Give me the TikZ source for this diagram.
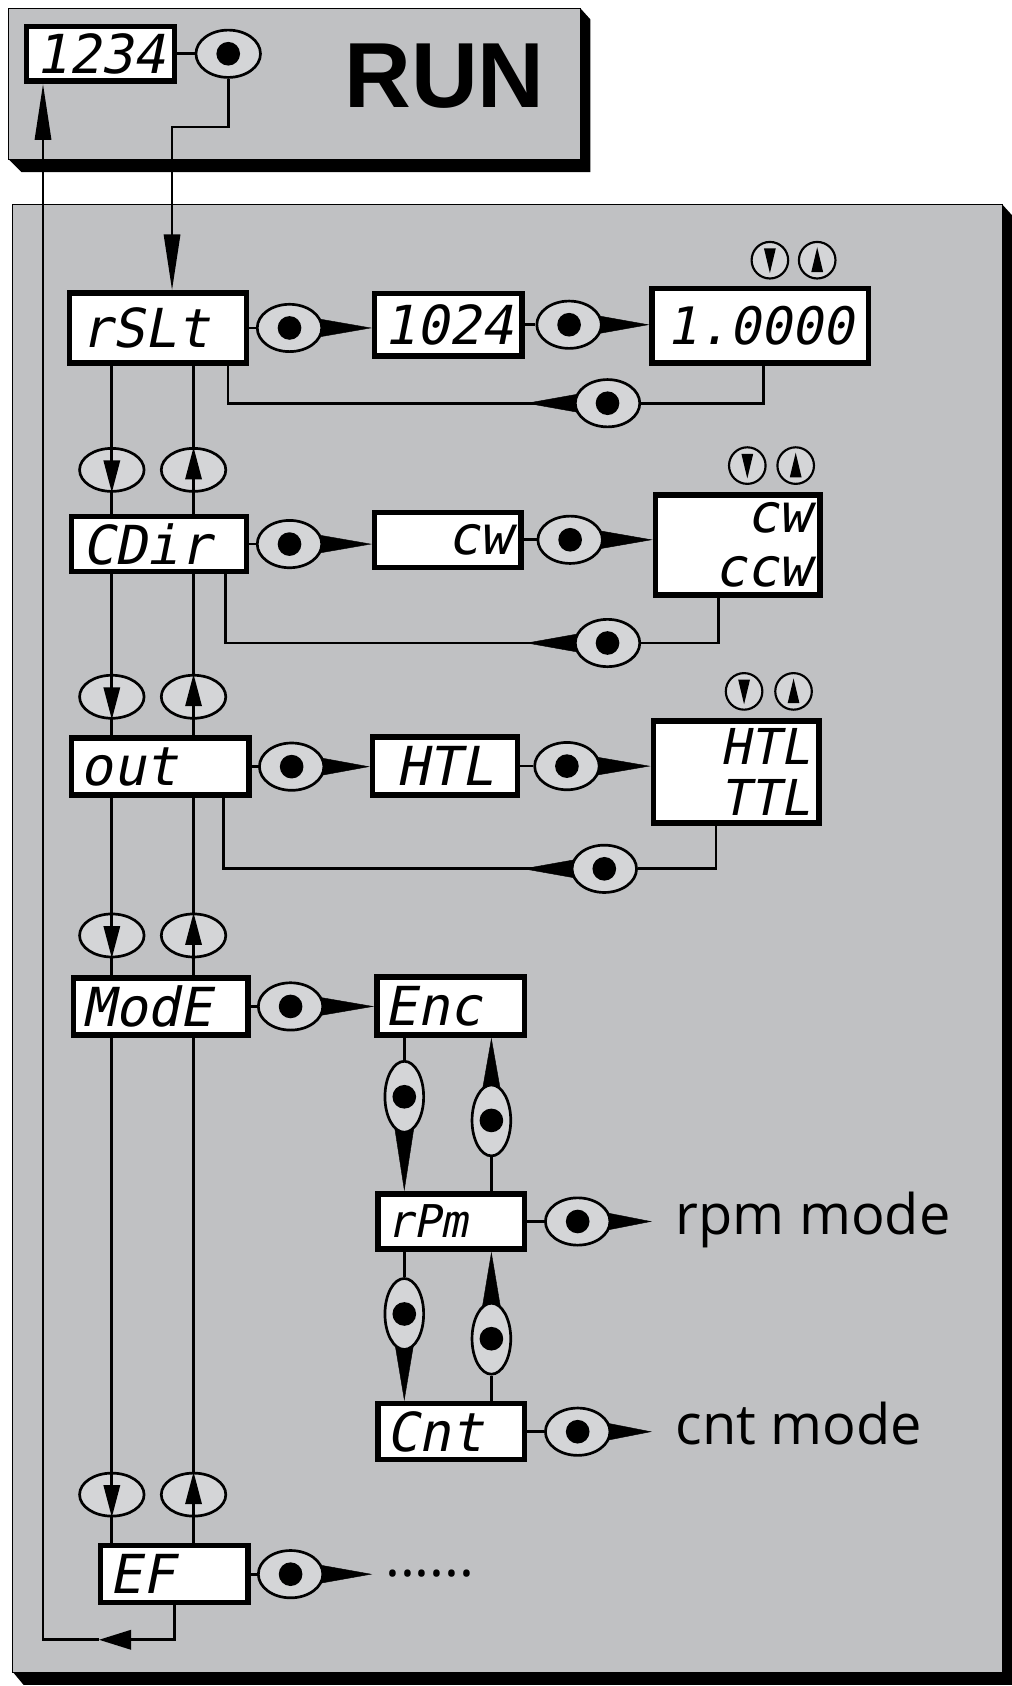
\documentclass[tikz,border=0pt]{standalone}
\usepackage{fontspec}
\usetikzlibrary{positioning,shapes.geometric,arrows.meta}
\setmainfont{Open Sans}
\newfontfamily\segfont{DejaVu Sans Mono}[FakeSlant=0.2]
\newfontfamily\runfont{Liberation Sans}
\definecolor{panelgray}{RGB}{192,193,195}
\definecolor{keygray}{RGB}{212,213,215}
\pgfdeclarelayer{base}
\pgfdeclarelayer{back}
\pgfsetlayers{base,back,main}

\begin{document}
\begin{tikzpicture}[
x=1pt, y=-1pt,
wire/.style={line width=2.5pt},
disp/.style={
draw,
line width=5pt,
fill=white,
inner sep=0pt,
font=\segfont\fontsize{50}{50}\selectfont
},
btn/.style={
ellipse,
draw,
line width=2.5pt,
fill=keygray,
minimum width=60pt,
minimum height=44pt,
inner sep=0pt,
path picture={\fill[black] (path picture bounding box.center) circle (11pt);}
},
vbtn/.style={btn, minimum width=36pt, minimum height=66pt},
stepkey/.style={ellipse, draw, line width=2.5pt, fill=keygray, minimum width=60pt, minimum height=40pt, inner sep=0pt},
setkey/.style={circle, draw, line width=2pt, fill=keygray, minimum size=34pt, inner sep=0pt},
setdown/.style={setkey, path picture={\fill[black] ([shift={(-5.5pt,11pt)}]path picture bounding box.center) -- ++(11pt,0pt) -- ++(-5.5pt,-23pt) -- cycle;}},
setup/.style={setkey, path picture={\fill[black] ([shift={(-5.5pt,-11pt)}]path picture bounding box.center) -- ++(11pt,0pt) -- ++(-5.5pt,23pt) -- cycle;}},
tri/.style={-{Triangle[length=#1, width=27pt]}},
slim/.style={wire, -{Triangle[length=#1, width=15pt]}}
]
\useasboundingbox (0,0) rectangle (941,1568);

% panels
\begin{pgfonlayer}{base}
\fill (540,8) -- (549,18) -- (549,160) -- (20,160) -- (8,148) -- cycle;
\draw[fill=panelgray, line width=1pt] (8,8) rectangle (540,148);
\fill (932,190) -- (941,200) -- (941,1567) -- (22,1567) -- (12,1555) -- cycle;
\draw[fill=panelgray, line width=1pt] (12,190) rectangle (932,1555);
\end{pgfonlayer}

\node[font=\runfont\bfseries\fontsize{86}{86}\selectfont, anchor=base west, inner sep=0pt] (run) at (320,100) {RUN};

% displays
\node[disp, minimum width=138pt, minimum height=51pt] (n1234) at (93.5,50) {1234};

\node[disp, minimum width=165pt, minimum height=65pt, text width=145pt, align=left] (rslt) at (147,305) {rSLt};
\node[disp, minimum width=137pt, minimum height=58pt] (n1024) at (417,302) {1024};
\node[disp, minimum width=201pt, minimum height=69pt, font=\segfont\fontsize{48}{48}\selectfont] (n10000) at (707,303) {1.0000};

\node[disp, minimum width=163pt, minimum height=51pt, text width=143pt, align=left] (cdir) at (148,506) {CDir};
\node[disp, minimum width=136pt, minimum height=51pt, text width=120pt, align=right] (ncw) at (416.5,502) {cw};
\node[disp, minimum width=153pt, minimum height=93pt, text width=137pt, align=right] (cwccw) at (686,507) {cw\\ccw};

\node[disp, minimum width=165pt, minimum height=53pt, text width=148pt, align=left] (nout) at (149,713) {out};
\node[disp, minimum width=135pt, minimum height=54pt] (nhtl) at (414,712.5) {HTL};
\node[disp, minimum width=154pt, minimum height=95pt, text width=138pt, align=right, font=\segfont\fontsize{46}{47}\selectfont] (htlttl) at (684.5,718) {HTL\\TTL};

\node[disp, minimum width=162pt, minimum height=53pt, text width=145pt, align=left] (mode) at (149.5,936) {ModE};
\node[disp, minimum width=137pt, minimum height=54pt, text width=122pt, align=left] (enc) at (419,935.5) {Enc};
\node[disp, minimum width=136pt, minimum height=51pt, text width=120pt, align=left, font=\segfont\fontsize{42}{42}\selectfont] (rpm) at (419.5,1136) {rPm};
\node[disp, minimum width=136pt, minimum height=52pt, text width=120pt, align=left] (cnt) at (419.5,1331.5) {Cnt};
\node[disp, minimum width=137pt, minimum height=53pt, text width=120pt, align=left] (ef) at (162,1464) {EF};

% buttons
\node[btn, right=16pt of n1234] (k0) {};
\node[btn, right=6pt of rslt] (k1a) {};
\node[btn, right=10pt of n1024] (k1b) {};
\node[btn] (r1) at (565,375) {};
\node[btn, right=6pt of cdir] (k2a) {};
\node[btn, right=12pt of ncw] (k2b) {};
\node[btn] (r2) at (565,598) {};
\node[btn, right=6pt of nout] (k3a) {};
\node[btn, right=12pt of nhtl] (k3b) {};
\node[btn] (r3) at (562,808) {};
\node[btn, right=6pt of mode] (k4) {};
\node[btn, right=16pt of rpm] (k5) {};
\node[btn, right=16pt of cnt] (k6) {};
\node[btn, right=6pt of ef] (k7) {};

\foreach \a/\b in {n1234/k0, rslt/k1a, n1024/k1b, cdir/k2a, ncw/k2b, nout/k3a, nhtl/k3b, mode/k4, rpm/k5, cnt/k6, ef/k7}
\draw[wire] (\a) -- (\b);

% tails of the buttons
\begin{pgfonlayer}{back}
\draw[tri=78pt] (k1a.center) -- (k1a.center -| n1024.west);
\draw[tri=76pt] (k1b.center) -- (k1b.center -| n10000.west);
\draw[tri=78pt] (k2a.center) -- (k2a.center -| ncw.west);
\draw[tri=78pt] (k2b.center) -- (k2b.center -| cwccw.west);
\draw[tri=74pt] (k3a.center) -- (k3a.center -| nhtl.west);
\draw[tri=79pt] (k3b.center) -- (k3b.center -| htlttl.west);
\draw[tri=79pt] (k4.center) -- (k4.center -| enc.west);
\draw[tri=69pt] (k5.center) -- ++(69,0);
\draw[tri=69pt] (k6.center) -- ++(69,0);
\draw[tri=76pt] (k7.center) -- ++(76,0);
\draw[tri=76pt] (r1.center) -- ++(-76,0);
\draw[tri=76pt] (r2.center) -- ++(-76,0);
\draw[tri=76pt] (r3.center) -- ++(-76,0);
\end{pgfonlayer}

% back loops
\draw[wire] ([xshift=3pt]n10000.south) |- (r1.east);
\draw[wire] (r1.west) -| ([xshift=65pt]rslt.south);
\draw[wire] ([xshift=-18pt]cwccw.south) |- (r2.east);
\draw[wire] (r2.west) -| ([xshift=62pt]cdir.south);
\draw[wire] ([xshift=-18.5pt]htlttl.south) |- (r3.east);
\draw[wire] (r3.west) -| ([xshift=59pt]nout.south);

% up / down keys
\node[setdown] (kd1) at (716,242) {};
\node[setup] (ku1) at (760,242) {};
\node[setdown] (kd2) at (695,433) {};
\node[setup] (ku2) at (740,433) {};
\node[setdown] (kd3) at (692,643) {};
\node[setup] (ku3) at (738,643) {};

% menu column
\coordinate (dnx) at (104,0);
\coordinate (upx) at (180,0);
\foreach \a/\b in {rslt/cdir, cdir/nout, nout/mode, mode/ef} {
\draw[wire] (\a.south -| dnx) -- (\b.north -| dnx);
\draw[wire] (\b.north -| upx) -- (\a.south -| upx);
}
\foreach \y/\i in {437/1, 648/2, 870/3, 1390/4} {
\node[stepkey] (sd\i) at (104,\y) {};
\node[stepkey] (su\i) at (180,\y) {};
\draw[slim=30pt] (sd\i.north) -- (sd\i.south);
\draw[slim=30pt] (su\i.south) -- (su\i.north);
}

% mode choice
\node[vbtn] (v1) at (376,1020) {};
\node[vbtn] (v2) at (457,1042) {};
\node[vbtn] (v3) at (376,1222) {};
\node[vbtn] (v4) at (457,1245) {};
\draw[wire] (v1.north |- enc.south) -- (v1.north);
\draw[wire] (v2.south) -- (v2.south |- rpm.north);
\draw[wire] (v3.north |- rpm.south) -- (v3.north);
\draw[wire] (v4.south) -- (v4.south |- cnt.north);
\begin{pgfonlayer}{back}
\draw[tri=88pt] (v1.center) -- (v1.center |- rpm.north);
\draw[tri=77pt] (v2.center) -- (v2.center |- enc.south);
\draw[tri=81pt] (v3.center) -- (v3.center |- cnt.north);
\draw[tri=81pt] (v4.center) -- (v4.center |- rpm.south);
\end{pgfonlayer}

\node[anchor=base west, inner sep=0pt, font=\fontsize{52}{52}\selectfont] (rpmtxt) at (628,1148) {rpm mode};
\node[anchor=base west, inner sep=0pt, font=\fontsize{52}{52}\selectfont] (cnttxt) at (628,1343) {cnt mode};
\node[anchor=base west, inner sep=0pt, font=\fontsize{52}{52}\selectfont] (dots) at (358,1466) {......};

% run entry and return
\coordinate (entry) at (160,118);
\draw[slim=52pt] (k0.south) |- (entry) -- (entry |- rslt.north);
\coordinate (backtip) at (92,1525);
\coordinate (back) at (40,1525);
\draw[wire, -{Triangle[length=30pt, width=18pt]}] (ef.south) |- (backtip);
\draw[slim=52pt] (backtip) -- (back) -- (back |- n1234.south);

\end{tikzpicture}
\end{document}
